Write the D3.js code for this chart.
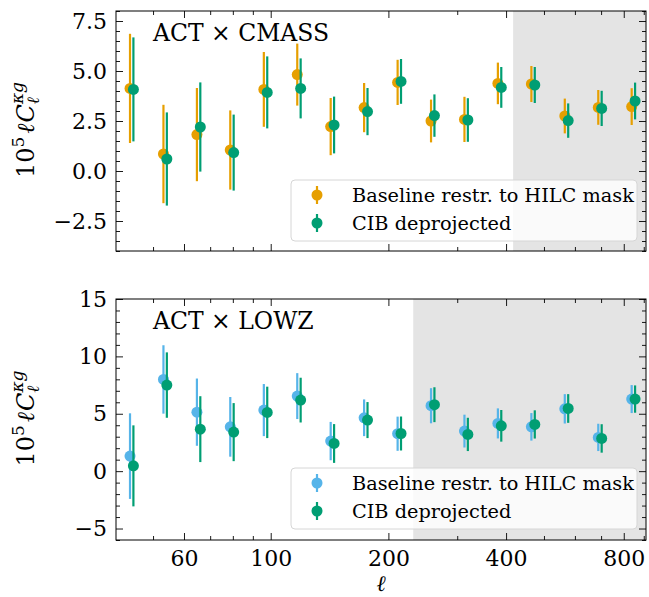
<!DOCTYPE html>
<html>
<head>
<meta charset="utf-8">
<script src="https://cdn.jsdelivr.net/npm/d3@7"></script>
<style>
body { margin: 0; background: #fff; }
svg { display: block; }
text { font-family: "DejaVu Serif", serif; fill: #000; }
</style>
</head>
<body>
<div class="chart"></div>
<script>
// bin centres in ell (log spaced bins)
var ell = [44.1, 53.7, 65.4, 79.6, 97.0, 118.1, 143.8, 175.1, 213.3, 259.7,
           316.2, 385.0, 469.0, 571.0, 695.5, 846.7];

// ACT x CMASS
var cmassBase    = [4.13, 0.85, 1.82, 1.05, 4.08, 4.82, 2.22, 3.17, 4.43, 2.50, 2.58, 4.38, 4.35, 2.75, 3.18, 3.22];
var cmassBaseErr = [2.73, 2.46, 2.33, 1.98, 1.87, 1.55, 1.43, 1.23, 1.13, 1.07, 1.13, 1.04, 0.90, 0.87, 0.87, 0.92];
var cmassCib     = [4.08, 0.60, 2.20, 0.92, 3.93, 4.13, 2.30, 2.97, 4.48, 2.77, 2.55, 4.18, 4.30, 2.52, 3.13, 3.50];
var cmassCibErr  = [2.60, 2.33, 2.23, 1.90, 1.80, 1.50, 1.42, 1.18, 1.12, 1.06, 1.09, 1.02, 0.90, 0.86, 0.88, 0.92];

// ACT x LOWZ
var lowzBase    = [1.31, 7.99, 5.14, 3.86, 5.32, 6.54, 2.62, 4.65, 3.26, 5.70, 3.49, 4.16, 3.86, 5.43, 2.94, 6.28];
var lowzBaseErr = [3.73, 2.98, 2.93, 2.60, 2.27, 2.00, 1.67, 1.60, 1.49, 1.53, 1.43, 1.31, 1.20, 1.28, 1.19, 1.22];
var lowzCib     = [0.46, 7.50, 3.66, 3.40, 5.12, 6.19, 2.41, 4.45, 3.28, 5.79, 3.20, 3.95, 4.07, 5.46, 2.85, 6.28];
var lowzCibErr  = [3.53, 2.85, 2.87, 2.53, 2.24, 1.95, 1.69, 1.57, 1.48, 1.52, 1.45, 1.38, 1.23, 1.25, 1.24, 1.19];

var xTickLabels = [60, 100, 200, 400, 800];
var legendLabels = ["Baseline restr. to HILC mask", "CIB deprojected"];

var fullWidth = 649, fullHeight = 597;
var left = 116, right = 646;

var panels = [
  {title: "ACT \u00d7 CMASS", top: 11, bottom: 251, ydom: [-4, 8],
   ymajor: [-2.5, 0, 2.5, 5, 7.5], ystep: 0.5, yfmt: d3.format(".1f"),
   cut: 417, baseColor: "#E69F00",
   base: cmassBase, baseErr: cmassBaseErr, cib: cmassCib, cibErr: cmassCibErr, labels: false},
  {title: "ACT \u00d7 LOWZ", top: 299, bottom: 540, ydom: [-6, 15],
   ymajor: [-5, 0, 5, 10, 15], ystep: 1, yfmt: d3.format("d"),
   cut: 231.5, baseColor: "#56B4E9",
   base: lowzBase, baseErr: lowzBaseErr, cib: lowzCib, cibErr: lowzCibErr, labels: true}
];
var cibColor = "#009E73";

var svg = d3.select(".chart").append("svg")
    .attr("width", fullWidth)
    .attr("height", fullHeight);

var x = d3.scaleLog().domain([40.2, 912]).range([left, right]);

// minor log ticks 50..900
var xMinor = [];
[10, 100].forEach(function(dec) {
  for (var k = 1; k < 10; k++) {
    var v = k * dec;
    if (v > 40.2 && v < 912 && xTickLabels.indexOf(v) < 0) xMinor.push(v);
  }
});

function negMinus(s) { return s.replace("-", "\u2212"); }

panels.forEach(function(p) {
  var y = d3.scaleLinear().domain(p.ydom).range([p.bottom, p.top]);
  var g = svg.append("g");
  var h = p.bottom - p.top;

  // shaded excluded range
  g.append("rect")
    .attr("x", x(p.cut)).attr("y", p.top)
    .attr("width", right - x(p.cut)).attr("height", h)
    .attr("fill", "#e4e4e4");

  // points with error bars
  function series(vals, errs, shift, color) {
    var sg = g.append("g");
    sg.selectAll("line").data(vals).enter().append("line")
      .attr("x1", (d, i) => x(ell[i] * shift))
      .attr("x2", (d, i) => x(ell[i] * shift))
      .attr("y1", (d, i) => y(d - errs[i]))
      .attr("y2", (d, i) => y(d + errs[i]))
      .attr("stroke", color).attr("stroke-width", 2.2);
    sg.selectAll("circle").data(vals).enter().append("circle")
      .attr("cx", (d, i) => x(ell[i] * shift))
      .attr("cy", d => y(d))
      .attr("r", 5.5)
      .attr("fill", color);
  }
  series(p.base, p.baseErr, 0.99, p.baseColor);
  series(p.cib, p.cibErr, 1.01, cibColor);

  // axes, ticks pointing inward on all sides
  var yMinor = d3.range(p.ydom[0], p.ydom[1] + 1e-9, p.ystep)
    .filter(v => p.ymajor.every(m => Math.abs(m - v) > 1e-9));

  g.append("g").attr("transform", "translate(" + left + ",0)")
    .call(d3.axisLeft(y).tickValues(p.ymajor).tickFormat(d => negMinus(p.yfmt(d)))
      .tickSize(-7).tickPadding(9));
  g.append("g").attr("transform", "translate(" + left + ",0)")
    .call(d3.axisLeft(y).tickValues(yMinor).tickFormat("").tickSize(-4));
  g.append("g").attr("transform", "translate(" + right + ",0)")
    .call(d3.axisRight(y).tickValues(p.ymajor).tickFormat("").tickSize(-7));
  g.append("g").attr("transform", "translate(" + right + ",0)")
    .call(d3.axisRight(y).tickValues(yMinor).tickFormat("").tickSize(-4));

  g.append("g").attr("transform", "translate(0," + p.bottom + ")")
    .call(d3.axisBottom(x).tickValues(xTickLabels)
      .tickFormat(p.labels ? d3.format("d") : "")
      .tickSize(-7).tickPadding(10));
  g.append("g").attr("transform", "translate(0," + p.bottom + ")")
    .call(d3.axisBottom(x).tickValues(xMinor).tickFormat("").tickSize(-4));
  g.append("g").attr("transform", "translate(0," + p.top + ")")
    .call(d3.axisTop(x).tickValues(xTickLabels).tickFormat("").tickSize(-7));
  g.append("g").attr("transform", "translate(0," + p.top + ")")
    .call(d3.axisTop(x).tickValues(xMinor).tickFormat("").tickSize(-4));

  g.selectAll(".domain").remove();
  g.append("rect")
    .attr("x", left).attr("y", p.top)
    .attr("width", right - left).attr("height", h)
    .attr("fill", "none").attr("stroke", "#000").attr("stroke-width", 1);
  g.selectAll(".tick line").attr("stroke", "#000").attr("stroke-width", 0.9);
  g.selectAll(".tick text").attr("font-family", "DejaVu Serif").attr("font-size", 22);

  // panel title
  g.append("text")
    .attr("x", 153).attr("y", p.top + 30)
    .attr("font-size", 23.5)
    .text(p.title);

  // legend
  var lx = 291, ly = p.top + 169, lw = 346, lh = 61;
  var lg = g.append("g");
  lg.append("rect")
    .attr("x", lx).attr("y", ly).attr("width", lw).attr("height", lh)
    .attr("rx", 4).attr("ry", 4)
    .attr("fill", "#fff").attr("fill-opacity", 0.8)
    .attr("stroke", "#d6d6d6").attr("stroke-width", 1);
  [p.baseColor, cibColor].forEach(function(c, i) {
    var ry = ly + 15 + i * 28;
    lg.append("line")
      .attr("x1", lx + 26).attr("x2", lx + 26)
      .attr("y1", ry - 9).attr("y2", ry + 9)
      .attr("stroke", c).attr("stroke-width", 2.2);
    lg.append("circle")
      .attr("cx", lx + 26).attr("cy", ry).attr("r", 5.5).attr("fill", c);
    lg.append("text")
      .attr("x", lx + 61).attr("y", ry + 7)
      .attr("font-size", 19.3)
      .text(legendLabels[i]);
  });

  // y label: 10^5 ell C_ell^{kappa g}
  var yl = g.append("text")
    .attr("transform", "translate(34," + ((p.top + p.bottom) / 2 - 1) + ") rotate(-90)")
    .attr("text-anchor", "middle")
    .attr("font-size", 24);
  yl.append("tspan").text("10");
  yl.append("tspan").attr("font-size", 17).attr("dy", -10).text("5");
  yl.append("tspan").attr("font-style", "italic").attr("dy", 10).attr("dx", 3).text("\u2113");
  yl.append("tspan").attr("font-style", "italic").attr("dx", 1).text("C");
  yl.append("tspan").attr("font-size", 17).attr("font-style", "italic").attr("dy", 5).text("\u2113");
  yl.append("tspan").attr("font-size", 17).attr("font-style", "italic").attr("dx", -7).attr("dy", -16).text("\u03bag");
});

// x label
svg.append("text")
  .attr("x", (left + right) / 2).attr("y", 591)
  .attr("text-anchor", "middle")
  .attr("font-size", 22).attr("font-style", "italic")
  .text("\u2113");
</script>
</body>
</html>
